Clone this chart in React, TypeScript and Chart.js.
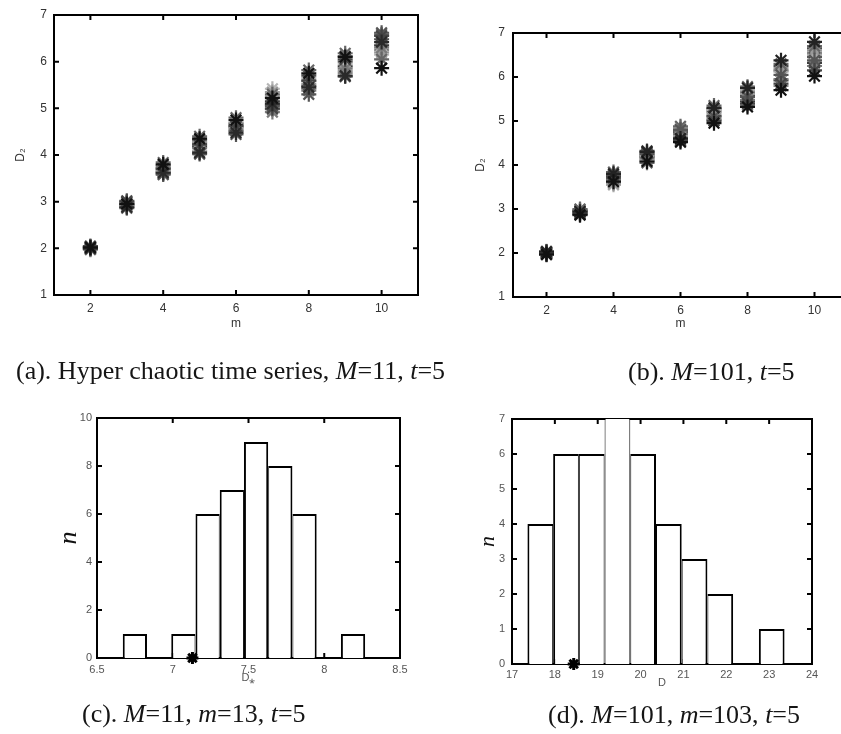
import React, { useEffect, useRef } from "react";
import { Chart, registerables } from "chart.js";

Chart.register(...registerables);

// ---------- data ----------
const mValues = [2, 3, 4, 5, 6, 7, 8, 9, 10];
const dimTicksX = [2, 4, 6, 8, 10];
const dimTicksY = [1, 2, 3, 4, 5, 6, 7];

// panel (a): D2 estimates of several realisations, one value per m
const aColors = [
  "#111111", "#2a2a2a", "#444444", "#555555", "#666666", "#7a7a7a",
  "#999999", "#b5b5b5", "#3a3a3a", "#505050", "#888888", "#5e5e5e",
];
const aSeries1 = [2.02, 2.95, 3.80, 4.35, 4.75, 5.22, 5.75, 6.10, 5.86];
const aSeries2 = [2.00, 2.88, 3.62, 4.05, 4.48, 5.10, 5.45, 5.70, 6.42];
const aSeries3 = [2.04, 3.00, 3.70, 4.22, 4.62, 5.00, 5.60, 6.05, 6.55];
const aSeries4 = [1.99, 3.02, 3.58, 4.02, 4.44, 5.05, 5.30, 5.68, 6.62];
const aSeries5 = [2.05, 2.86, 3.84, 4.40, 4.80, 5.30, 5.82, 6.18, 6.05];
const aSeries6 = [1.98, 2.92, 3.75, 4.15, 4.55, 4.92, 5.38, 5.85, 6.30];
const aSeries7 = [2.03, 2.97, 3.66, 4.28, 4.70, 5.35, 5.52, 5.80, 6.20];
const aSeries8 = [2.01, 2.90, 3.68, 4.10, 4.58, 5.42, 5.65, 5.95, 6.15];
const aSeries9 = [2.00, 2.93, 3.72, 4.18, 4.65, 5.15, 5.48, 5.90, 6.35];
const aSeries10 = [2.03, 2.98, 3.60, 4.25, 4.52, 5.08, 5.70, 6.00, 6.48];
const aSeries11 = [1.97, 2.89, 3.78, 4.08, 4.68, 5.25, 5.42, 5.76, 6.25];
const aSeries12 = [2.02, 2.95, 3.64, 4.32, 4.60, 4.98, 5.58, 6.12, 6.58];

// panel (b)
const bColors = [
  "#111111", "#222222", "#444444", "#555555", "#666666", "#7a7a7a",
  "#999999", "#aaaaaa", "#3c3c3c", "#595959", "#858585", "#4a4a4a",
];
const bSeries1 = [1.97, 2.87, 3.62, 4.08, 4.52, 4.95, 5.32, 5.70, 6.02];
const bSeries2 = [2.03, 2.94, 3.80, 4.30, 4.60, 5.30, 5.75, 6.38, 6.80];
const bSeries3 = [1.96, 2.86, 3.74, 4.32, 4.55, 5.00, 5.40, 5.85, 6.15];
const bSeries4 = [2.00, 2.90, 3.70, 4.25, 4.80, 5.10, 5.55, 6.05, 6.38];
const bSeries5 = [2.01, 3.00, 3.84, 4.05, 4.88, 5.35, 5.78, 6.30, 6.70];
const bSeries6 = [2.02, 2.97, 3.66, 4.15, 4.70, 5.05, 5.48, 5.95, 6.25];
const bSeries7 = [1.99, 2.92, 3.58, 4.20, 4.65, 5.18, 5.62, 6.20, 6.60];
const bSeries8 = [2.04, 2.99, 3.55, 4.12, 4.85, 5.25, 5.70, 6.12, 6.50];
const bSeries9 = [2.00, 2.95, 3.68, 4.18, 4.62, 5.12, 5.45, 5.92, 6.32];
const bSeries10 = [1.98, 2.89, 3.78, 4.28, 4.75, 5.22, 5.65, 6.15, 6.45];
const bSeries11 = [2.03, 2.93, 3.60, 4.10, 4.58, 5.02, 5.36, 5.80, 6.55];
const bSeries12 = [2.01, 2.96, 3.72, 4.22, 4.82, 5.28, 5.58, 6.25, 6.65];

// panel (c): histogram of D*
const cBinCenters = [6.75, 6.91, 7.07, 7.23, 7.39, 7.55, 7.71, 7.87, 8.03, 8.19];
const cCounts = [1, 0, 1, 6, 7, 9, 8, 6, 0, 1];
const cTicksX = [6.5, 7, 7.5, 8, 8.5];
const cTicksY = [0, 2, 4, 6, 8, 10];
const cMarker = [7.13];

// panel (d): histogram of D
const dBinCenters = [17.66, 18.26, 18.86, 19.46, 20.06, 20.66, 21.26, 21.86, 22.46, 23.06];
const dCounts = [4, 6, 6, 8, 6, 4, 3, 2, 0, 1];
const dTicksX = [17, 18, 19, 20, 21, 22, 23, 24];
const dTicksY = [0, 1, 2, 3, 4, 5, 6, 7];
const dMarker = [18.44];

// ---------- helpers ----------
const SANS = "'Liberation Sans', Arial, Helvetica, sans-serif";
const SERIF = "'Liberation Serif', 'Times New Roman', serif";

const boxPlugin = {
  id: "boxTicks",
  beforeDatasetsDraw(chart: any) {
    const { ctx, chartArea: a, scales } = chart;
    const x = scales.x;
    const y = scales.y;
    const len = 5;
    ctx.save();
    ctx.strokeStyle = "#000";
    ctx.lineWidth = 2;
    ctx.strokeRect(a.left, a.top, a.right - a.left, a.bottom - a.top);
    ctx.beginPath();
    x.ticks.forEach((t: any) => {
      const px = x.getPixelForValue(t.value);
      ctx.moveTo(px, a.bottom);
      ctx.lineTo(px, a.bottom - len);
      ctx.moveTo(px, a.top);
      ctx.lineTo(px, a.top + len);
    });
    y.ticks.forEach((t: any) => {
      const py = y.getPixelForValue(t.value);
      ctx.moveTo(a.left, py);
      ctx.lineTo(a.left + len, py);
      ctx.moveTo(a.right, py);
      ctx.lineTo(a.right - len, py);
    });
    ctx.stroke();
    ctx.restore();
  },
};

function xAxis(o: any) {
  return {
    type: "linear",
    position: "bottom",
    min: o.min,
    max: o.max,
    offset: false,
    grid: { display: false, drawTicks: false },
    border: { display: false },
    afterBuildTicks: (s: any) => {
      s.ticks = o.ticks.map((v: number) => ({ value: v }));
    },
    afterFit: (s: any) => {
      s.height = o.height;
    },
    ticks: {
      padding: o.pad,
      font: { family: SANS, size: o.size },
      color: o.color,
      maxRotation: 0,
      autoSkip: false,
      callback: (v: any) => String(v),
    },
    title: {
      display: true,
      text: o.title,
      font: o.titleFont,
      color: o.color,
      padding: { top: 0, bottom: o.titlePad },
    },
  };
}

function yAxis(o: any) {
  return {
    type: "linear",
    position: "left",
    min: o.min,
    max: o.max,
    grid: { display: false, drawTicks: false },
    border: { display: false },
    afterBuildTicks: (s: any) => {
      s.ticks = o.ticks.map((v: number) => ({ value: v }));
    },
    afterFit: (s: any) => {
      s.width = o.width;
    },
    ticks: {
      padding: o.pad,
      font: { family: SANS, size: o.size },
      color: o.color,
      autoSkip: false,
      callback: (v: any) => String(v),
    },
    title: {
      display: true,
      text: o.title,
      font: o.titleFont,
      color: o.titleColor || o.color,
      padding: { top: o.titlePad, bottom: 0 },
    },
  };
}

function baseOptions(padding: any, scales: any) {
  return {
    animation: false,
    responsive: false,
    maintainAspectRatio: false,
    devicePixelRatio: 1,
    events: [],
    layout: { padding },
    plugins: { legend: { display: false }, tooltip: { enabled: false }, title: { display: false } },
    scales,
  };
}

function scatterSets(series: number[][], colors: string[]) {
  return series.map((s, k) => ({
    type: "scatter",
    data: mValues.map((m, i) => ({ x: m, y: s[i] })),
    pointStyle: "star",
    pointRadius: 7.5,
    pointHoverRadius: 7.5,
    borderWidth: 2.2,
    borderColor: colors[k],
    backgroundColor: colors[k],
    clip: false,
  }));
}

function histSets(centers: number[], counts: number[], yMax: number, marker: number[]) {
  return [
    {
      type: "scatter",
      order: 0,
      data: marker.map((v) => ({ x: v, y: 0 })),
      pointStyle: "star",
      pointRadius: 6,
      borderWidth: 3,
      borderColor: "#000",
      backgroundColor: "#000",
      clip: false,
    },
    {
      type: "bar",
      order: 1,
      data: centers.map((c, i) => ({ x: c, y: counts[i] })),
      backgroundColor: "#ffffff",
      borderColor: "#000000",
      borderSkipped: "start",
      barPercentage: 1,
      categoryPercentage: 1,
      inflateAmount: 0,
      clip: 0,
      borderWidth: (ctx: any) => {
        const i = ctx.dataIndex;
        const v = counts[i];
        if (v > yMax) return { top: 1, left: 1, right: 1, bottom: 0 };
        const prev = i > 0 ? counts[i - 1] : 0;
        const next = i < counts.length - 1 ? counts[i + 1] : 0;
        return { top: 2, bottom: 0, left: prev < v ? 2 : 1, right: next < v ? 2 : 1 };
      },
    },
  ];
}

function Panel(props: { left: number; top: number; width: number; height: number; make: () => any }) {
  const ref = useRef<HTMLCanvasElement | null>(null);
  useEffect(() => {
    const chart = new Chart(ref.current as HTMLCanvasElement, props.make());
    return () => chart.destroy();
  }, []);
  return (
    <canvas
      ref={ref}
      width={props.width}
      height={props.height}
      style={{ position: "absolute", left: props.left, top: props.top, width: props.width, height: props.height }}
    />
  );
}

const makeA = () => ({
  type: "scatter",
  data: {
    datasets: scatterSets(
      [aSeries1, aSeries2, aSeries3, aSeries4, aSeries5, aSeries6, aSeries7, aSeries8, aSeries9, aSeries10, aSeries11, aSeries12],
      aColors
    ),
  },
  options: baseOptions(
    { left: 0, top: 15, right: 22, bottom: 14 },
    {
      x: xAxis({ min: 1, max: 11, ticks: dimTicksX, height: 36, pad: 6, size: 12, color: "#333", title: "m", titleFont: { family: SANS, size: 12 }, titlePad: 0 }),
      y: yAxis({ min: 1, max: 7, ticks: dimTicksY, width: 54, pad: 7, size: 12, color: "#333", title: "D₂", titleFont: { family: SANS, size: 12 }, titlePad: 13 }),
    }
  ),
  plugins: [boxPlugin],
});

const makeB = () => ({
  type: "scatter",
  data: {
    datasets: scatterSets(
      [bSeries1, bSeries2, bSeries3, bSeries4, bSeries5, bSeries6, bSeries7, bSeries8, bSeries9, bSeries10, bSeries11, bSeries12],
      bColors
    ),
  },
  options: baseOptions(
    { left: 0, top: 33, right: 12, bottom: 14 },
    {
      x: xAxis({ min: 1, max: 11, ticks: dimTicksX, height: 34, pad: 6, size: 12, color: "#333", title: "m", titleFont: { family: SANS, size: 12 }, titlePad: 0 }),
      y: yAxis({ min: 1, max: 7, ticks: dimTicksY, width: 93, pad: 8, size: 12, color: "#333", title: "D₂", titleFont: { family: SANS, size: 12 }, titlePad: 53 }),
    }
  ),
  plugins: [boxPlugin],
});

const makeC = () => ({
  type: "bar",
  data: { datasets: histSets(cBinCenters, cCounts, 10, cMarker) },
  options: baseOptions(
    { left: 0, top: 38, right: 30, bottom: 25 },
    {
      x: xAxis({ min: 6.5, max: 8.5, ticks: cTicksX, height: 27, pad: 5, size: 11, color: "#555", title: "D⁎", titleFont: { family: SANS, size: 11 }, titlePad: 0 }),
      y: yAxis({ min: 0, max: 10, ticks: cTicksY, width: 67, pad: 5, size: 11, color: "#555", title: "n", titleColor: "#111", titleFont: { family: SERIF, size: 26, style: "italic" }, titlePad: 24 }),
    }
  ),
  plugins: [boxPlugin],
});

const makeD = () => ({
  type: "bar",
  data: { datasets: histSets(dBinCenters, dCounts, 7, dMarker) },
  options: baseOptions(
    { left: 0, top: 39, right: 28, bottom: 20 },
    {
      x: xAxis({ min: 17, max: 24, ticks: dTicksX, height: 26, pad: 4, size: 11, color: "#555", title: "D", titleFont: { family: SANS, size: 11 }, titlePad: 0 }),
      y: yAxis({ min: 0, max: 7, ticks: dTicksY, width: 72, pad: 7, size: 11, color: "#555", title: "n", titleColor: "#111", titleFont: { family: SERIF, size: 22, style: "italic" }, titlePad: 35 }),
    }
  ),
  plugins: [boxPlugin],
});

const capStyle: React.CSSProperties = {
  position: "absolute",
  fontFamily: SERIF,
  fontSize: 26,
  lineHeight: "26px",
  whiteSpace: "nowrap",
  color: "#151515",
};

export default function App() {
  return (
    <div
      style={{
        position: "absolute",
        left: 0,
        top: 0,
        width: 841,
        height: 734,
        overflow: "hidden",
        background: "#ffffff",
      }}
    >
      <Panel left={0} top={0} width={440} height={345} make={makeA} />
      <Panel left={420} top={0} width={440} height={345} make={makeB} />
      <Panel left={30} top={380} width={400} height={330} make={makeC} />
      <Panel left={440} top={380} width={400} height={330} make={makeD} />
      <div style={{ ...capStyle, left: 16, top: 358 }}>
        (a). Hyper chaotic time series, <i>M</i>=11, <i>t</i>=5
      </div>
      <div style={{ ...capStyle, left: 628, top: 359 }}>
        (b). <i>M</i>=101, <i>t</i>=5
      </div>
      <div style={{ ...capStyle, left: 82, top: 701 }}>
        (c). <i>M</i>=11, <i>m</i>=13, <i>t</i>=5
      </div>
      <div style={{ ...capStyle, left: 548, top: 702 }}>
        (d). <i>M</i>=101, <i>m</i>=103, <i>t</i>=5
      </div>
    </div>
  );
}
